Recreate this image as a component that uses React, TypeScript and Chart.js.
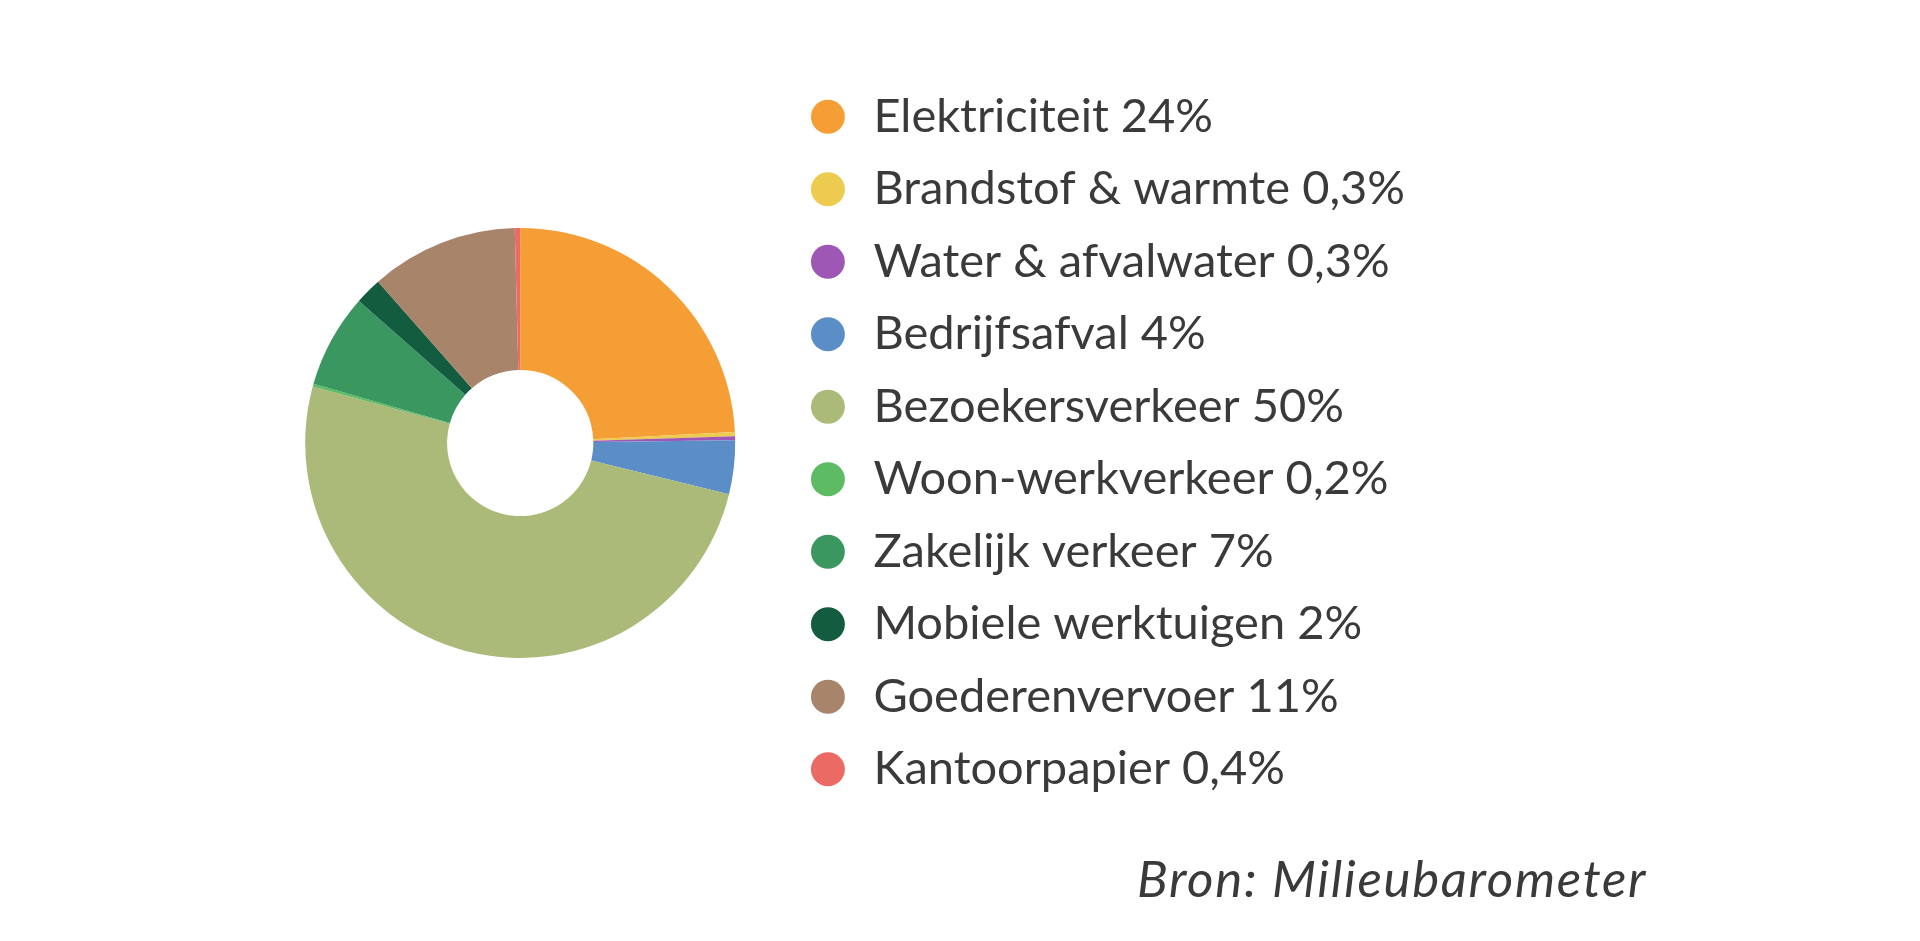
import React, { useEffect, useRef } from "react";
import { Chart, registerables } from "chart.js";

Chart.register(...registerables);

const sources: string[] = [
  "Elektriciteit 24%",
  "Brandstof & warmte 0,3%",
  "Water & afvalwater 0,3%",
  "Bedrijfsafval 4%",
  "Bezoekersverkeer 50%",
  "Woon-werkverkeer 0,2%",
  "Zakelijk verkeer 7%",
  "Mobiele werktuigen 2%",
  "Goederenvervoer 11%",
  "Kantoorpapier 0,4%",
];
const shares: number[] = [24, 0.3, 0.3, 4, 50, 0.2, 7, 2, 11, 0.4];
const colors: string[] = [
  "#F59E35",
  "#EDCB4E",
  "#9E57B5",
  "#5B8EC6",
  "#ABBA79",
  "#5DBB63",
  "#3A9760",
  "#145C40",
  "#A8846A",
  "#EC6A64",
];
const sourceNote = "Bron: Milieubarometer";

const FONT = "Lato, 'Open Sans', sans-serif";

const FootprintDoughnut: React.FC = () => {
  const chartRef = useRef<HTMLCanvasElement | null>(null);

  useEffect(() => {
    if (!chartRef.current) return;
    const ctx = chartRef.current.getContext("2d");
    if (!ctx) return;

    const chart = new Chart(ctx, {
      type: "doughnut",
      data: {
        labels: sources,
        datasets: [
          {
            data: shares,
            backgroundColor: colors,
            borderWidth: 0,
            radius: 215,
            cutout: "34%",
          },
        ],
      },
      options: {
        responsive: true,
        maintainAspectRatio: false,
        animation: false,
        layout: { padding: 0 },
        plugins: {
          tooltip: { enabled: false },
          legend: {
            position: "right",
            align: "center",
            maxWidth: 760,
            labels: {
              usePointStyle: true,
              pointStyle: "circle",
              boxWidth: 44,
              boxHeight: 24,
              padding: 25.5,
              color: "#3a3a3a",
              font: { family: FONT, size: 47 },
            },
          },
        },
      },
    });

    return () => {
      chart.destroy();
    };
  }, []);

  return <canvas ref={chartRef} />;
};

export default function App() {
  return (
    <div style={{ background: "#fff" }}>
      <div
        style={{
          position: "absolute",
          left: 260,
          top: 43,
          width: 1415 - 260,
          height: 800,
        }}
      >
        <FootprintDoughnut />
      </div>
      <div
        style={{
          position: "absolute",
          left: 1137,
          top: 884 - 39,
          fontFamily: FONT,
          fontStyle: "italic",
          fontSize: 51,
          letterSpacing: "1.7px",
          lineHeight: "66px",
          color: "#3a3a3a",
          whiteSpace: "nowrap",
        }}
      >
        {sourceNote}
      </div>
    </div>
  );
}
